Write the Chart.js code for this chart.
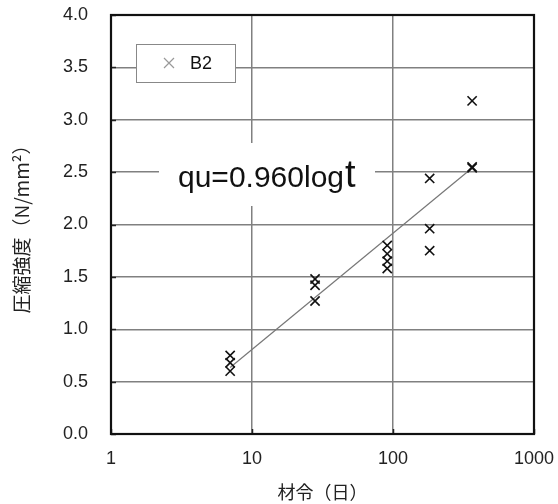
<!DOCTYPE html>
<html>
<head>
<meta charset="utf-8">
<script src="https://cdn.jsdelivr.net/npm/chart.js@4/dist/chart.umd.min.js"></script>
<style>
  html, body { margin: 0; padding: 0; background: #fff; }
  canvas { display: block; }
</style>
</head>
<body>
<canvas id="c" width="558" height="504"></canvas>
<script>
// Compressive strength of specimen B2 against curing age
const ageDays  = [7, 7, 7, 28, 28, 28, 91, 91, 91, 91, 182, 182, 182, 364, 364, 364];
const strength = [0.75, 0.68, 0.60, 1.48, 1.42, 1.27, 1.80, 1.72, 1.65, 1.58, 2.44, 1.96, 1.75, 3.18, 2.55, 2.54];

// Regression line end points
const fitAge      = [7, 364];
const fitStrength = [0.635, 2.54];

const xTickValues = [1, 10, 100, 1000];
const yTickValues = [0, 0.5, 1.0, 1.5, 2.0, 2.5, 3.0, 3.5, 4.0];

const seriesName   = 'B2';
const equationMain = 'qu=0.960log';
const equationTail = 't';
const xTitle = '材令（日）';
const yTitle = '圧縮強度（N/mm²）';

const FONT = "'Liberation Sans', 'Noto Sans CJK JP', Arial, sans-serif";
const CJK  = "'Noto Sans CJK JP', 'Liberation Sans', sans-serif";

const points = ageDays.map((t, i) => ({ x: t, y: strength[i] }));
const fitLine = fitAge.map((t, i) => ({ x: t, y: fitStrength[i] }));

const annotations = {
  id: 'annotations',
  afterDatasetsDraw(chart) {
    const { ctx, chartArea: a, scales: { x, y } } = chart;
    ctx.save();
    // short inward tick marks
    ctx.strokeStyle = '#222';
    ctx.lineWidth = 1.5;
    yTickValues.forEach(v => {
      const py = Math.round(y.getPixelForValue(v)) + 0.5;
      ctx.beginPath(); ctx.moveTo(a.left, py); ctx.lineTo(a.left + 5, py); ctx.stroke();
    });
    xTickValues.forEach(v => {
      const px = Math.round(x.getPixelForValue(v)) + 0.5;
      ctx.beginPath(); ctx.moveTo(px, a.bottom); ctx.lineTo(px, a.bottom - 5); ctx.stroke();
    });
    // plot frame
    ctx.strokeStyle = '#111';
    ctx.lineWidth = 2.2;
    ctx.strokeRect(a.left, a.top, a.right - a.left, a.bottom - a.top);
    ctx.restore();
  },
  afterDraw(chart) {
    const { ctx, chartArea: a } = chart;
    ctx.save();

    // legend box
    const lx = a.left + 25, ly = a.top + 29, lw = 99, lh = 38;
    ctx.fillStyle = '#fff';
    ctx.fillRect(lx, ly, lw, lh);
    ctx.strokeStyle = '#888';
    ctx.lineWidth = 1;
    ctx.strokeRect(lx + 0.5, ly + 0.5, lw, lh);
    const mx = lx + 33, my = ly + 19, r = 5;
    ctx.strokeStyle = '#999';
    ctx.lineWidth = 1.2;
    ctx.beginPath();
    ctx.moveTo(mx - r, my - r); ctx.lineTo(mx + r, my + r);
    ctx.moveTo(mx + r, my - r); ctx.lineTo(mx - r, my + r);
    ctx.stroke();
    ctx.fillStyle = '#111';
    ctx.font = `18px ${FONT}`;
    ctx.textBaseline = 'middle';
    ctx.textAlign = 'left';
    ctx.fillText(chart.data.datasets[0].label, lx + 54, my + 1);

    // regression equation with white backing
    const ex = 159, ey = 143, ew = 216, eh = 63;
    ctx.fillStyle = '#fff';
    ctx.fillRect(ex, ey, ew, eh);
    ctx.fillStyle = '#111';
    ctx.textBaseline = 'alphabetic';
    ctx.font = `30px ${FONT}`;
    const bx = 178, by = 187;
    ctx.fillText(equationMain, bx, by);
    const w = ctx.measureText(equationMain).width;
    ctx.font = `38px ${FONT}`;
    ctx.fillText(equationTail, bx + w + 1, by);

    ctx.restore();
  }
};

new Chart(document.getElementById('c'), {
  data: {
    datasets: [
      {
        type: 'scatter',
        label: seriesName,
        data: points,
        pointStyle: 'crossRot',
        pointRadius: 6.5,
        pointHoverRadius: 6.5,
        borderColor: '#111',
        backgroundColor: '#111',
        pointBorderWidth: 1.6,
        order: 1
      },
      {
        type: 'line',
        label: 'fit',
        data: fitLine,
        borderColor: '#777',
        borderWidth: 1.2,
        pointRadius: 0,
        fill: false,
        order: 2
      }
    ]
  },
  options: {
    responsive: false,
    animation: false,
    layout: { padding: { left: 0, right: 24, top: 15, bottom: 0 } },
    plugins: { legend: { display: false }, tooltip: { enabled: false } },
    scales: {
      x: {
        type: 'logarithmic',
        position: 'bottom',
        min: 1,
        max: 1000,
        afterBuildTicks: s => { s.ticks = xTickValues.map(v => ({ value: v })); },
        afterFit: s => { s.height = 70; s.paddingLeft = 0; s.paddingRight = 0; },
        ticks: {
          autoSkip: false,
          maxRotation: 0,
          padding: 14,
          color: '#222',
          font: { family: FONT, size: 18 },
          callback: v => String(v)
        },
        grid: { color: '#808080', lineWidth: 1.5, drawTicks: false },
        border: { display: false },
        title: {
          display: true,
          text: xTitle,
          color: '#222',
          font: { family: CJK, size: 18 },
          padding: { top: 0, bottom: 1 }
        }
      },
      y: {
        type: 'linear',
        position: 'left',
        min: 0,
        max: 4,
        afterBuildTicks: s => { s.ticks = yTickValues.map(v => ({ value: v })); },
        afterFit: s => { s.width = 111; s.paddingTop = 0; s.paddingBottom = 0; },
        ticks: {
          padding: 23,
          color: '#222',
          font: { family: FONT, size: 18 },
          callback: v => Number(v).toFixed(1)
        },
        grid: { color: '#808080', lineWidth: 1.5, drawTicks: false },
        border: { display: false },
        title: {
          display: true,
          text: yTitle,
          color: '#222',
          font: { family: CJK, size: 19 },
          padding: { top: 10, bottom: 0 }
        }
      }
    }
  },
  plugins: [annotations]
});
</script>
</body>
</html>
